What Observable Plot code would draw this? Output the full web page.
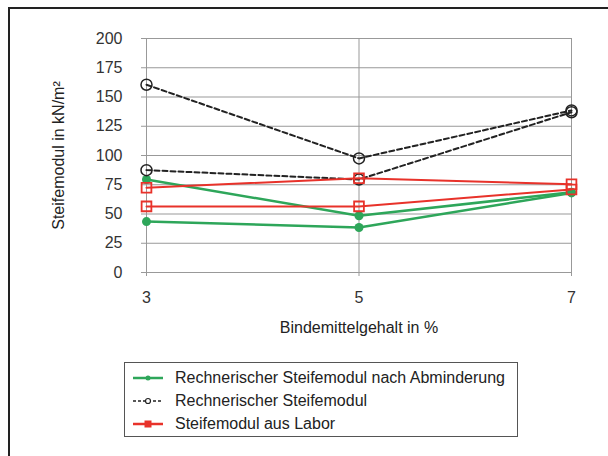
<!DOCTYPE html>
<html>
<head>
<meta charset="utf-8">
<script src="https://cdn.jsdelivr.net/npm/d3@7"></script>
<script src="https://cdn.jsdelivr.net/npm/@observablehq/plot@0.6"></script>
<style>
  html, body { margin: 0; padding: 0; background: #fff; }
  #wrap { position: relative; width: 608px; height: 456px; overflow: hidden; font-family: "Liberation Sans", Arial, sans-serif; }
  #border { position: absolute; left: 8px; top: 7px; width: 700px; height: 600px; border-left: 2px solid #222; border-top: 2px solid #222; }
  #legend { position: absolute; left: 124px; top: 362px; width: 394px; height: 75px; border: 1px solid #555; box-sizing: border-box; background: #fff; }
  .row { position: absolute; left: 8px; height: 20px; display: flex; align-items: center; font-size: 16px; color: #222; }
  .row svg { margin-right: 12px; }
</style>
</head>
<body>
<div id="wrap"><div id="border"></div></div>
<script>
const categories = [3, 5, 7];
const abminderungA = [79.5, 48.5, 68.5];
const abminderungB = [43.5, 38.5, 68];
const rechnerischA = [160.5, 97.5, 138.5];
const rechnerischB = [87.5, 79.5, 137];
const laborA = [72.5, 80.5, 75.5];
const laborB = [56.5, 56.5, 71];
const yTicks = [0, 25, 50, 75, 100, 125, 150, 175, 200];
const seriesNames = ["Rechnerischer Steifemodul nach Abminderung", "Rechnerischer Steifemodul", "Steifemodul aus Labor"];
const colors = ["#2ea65a", "#222222", "#e8322a"];

function rows(vals, series, group) {
  return categories.map((x, i) => ({x, y: vals[i], series, group}));
}
const green = [...rows(abminderungA, seriesNames[0], "a"), ...rows(abminderungB, seriesNames[0], "b")];
const black = [...rows(rechnerischA, seriesNames[1], "a"), ...rows(rechnerischB, seriesNames[1], "b")];
const red = [...rows(laborA, seriesNames[2], "a"), ...rows(laborB, seriesNames[2], "b")];

const chart = Plot.plot({
  width: 608,
  height: 456,
  marginLeft: 146,
  marginRight: 37,
  marginTop: 38,
  marginBottom: 184,
  style: {fontFamily: "Liberation Sans, Arial, sans-serif", fontSize: "16px", color: "#333", background: "transparent"},
  x: {type: "linear", domain: [3, 7]},
  y: {domain: [0, 200]},
  marks: [
    Plot.gridY(yTicks, {stroke: "#999", strokeOpacity: 1}),
    Plot.gridX(categories, {stroke: "#999", strokeOpacity: 1}),
    Plot.ruleY([0], {stroke: "#999"}),
    Plot.axisY(yTicks, {tickSize: 5, tickPadding: 19, label: null, stroke: "#999", fill: "#333", fontSize: 16}),
    Plot.axisX(categories, {tickSize: 4, tickPadding: 15, label: null, stroke: "#999", fill: "#333", fontSize: 16}),
    Plot.text(["Bindemittelgehalt in %"], {frameAnchor: "bottom", dy: 60, fill: "#222", fontSize: 16}),
    Plot.text(["Steifemodul in kN/m²"], {frameAnchor: "left", dx: -88, rotate: -90, textAnchor: "middle", fill: "#222", fontSize: 16}),
    Plot.line(green, {x: "x", y: "y", z: "group", stroke: colors[0], strokeWidth: 2.5}),
    Plot.dot(green, {x: "x", y: "y", fill: colors[0], r: 4.5}),
    Plot.line(black, {x: "x", y: "y", z: "group", stroke: colors[1], strokeWidth: 2, strokeDasharray: "5,3"}),
    Plot.dot(black, {x: "x", y: "y", stroke: colors[1], fill: "none", r: 5.5, strokeWidth: 1.5}),
    Plot.line(red, {x: "x", y: "y", z: "group", stroke: colors[2], strokeWidth: 2}),
    Plot.dot(red, {x: "x", y: "y", stroke: colors[2], fill: "none", symbol: "square", r: 5.5, strokeWidth: 1.8})
  ]
});
chart.style.position = "absolute";
chart.style.left = "0px";
chart.style.top = "0px";
document.getElementById("wrap").appendChild(chart);

const legend = document.createElement("div");
legend.id = "legend";
const swatches = [
  `<line x1="0" y1="6" x2="30" y2="6" stroke="${colors[0]}" stroke-width="2.5"/><circle cx="15" cy="6" r="2.5" fill="${colors[0]}"/>`,
  `<line x1="0" y1="6" x2="30" y2="6" stroke="${colors[1]}" stroke-width="1.5" stroke-dasharray="3,2"/><circle cx="15" cy="6" r="2.5" fill="#fff" stroke="${colors[1]}" stroke-width="1.2"/>`,
  `<line x1="0" y1="6" x2="30" y2="6" stroke="${colors[2]}" stroke-width="2.5"/><rect x="12" y="3" width="6" height="6" fill="${colors[2]}" stroke="${colors[2]}"/>`
];
seriesNames.forEach((name, i) => {
  const row = document.createElement("div");
  row.className = "row";
  row.style.top = (5 + i * 23) + "px";
  row.innerHTML = `<svg width="30" height="12">${swatches[i]}</svg><span>${name}</span>`;
  legend.appendChild(row);
});
document.getElementById("wrap").appendChild(legend);
</script>
</body>
</html>
